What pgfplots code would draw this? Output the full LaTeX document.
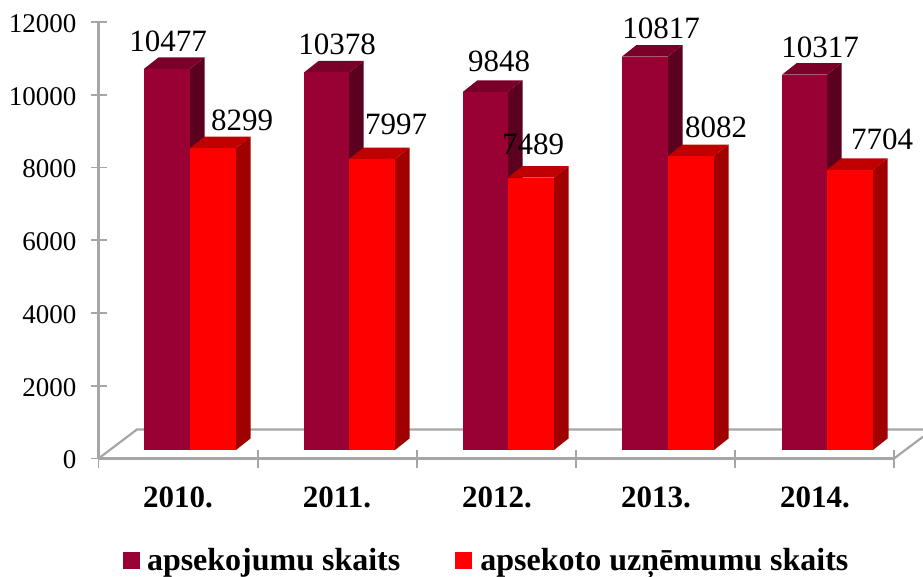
\documentclass[border=0pt]{standalone}
\usepackage{fontspec}
\setmainfont{Liberation Serif}
\usepackage{pgfplots}
\pgfplotsset{compat=1.18}
\definecolor{dfront}{HTML}{990033}
\definecolor{dside}{HTML}{5C001F}
\definecolor{dtop}{HTML}{7A0029}
\definecolor{rfront}{HTML}{FF0000}
\definecolor{rside}{HTML}{A00000}
\definecolor{rtop}{HTML}{C00000}
\definecolor{axgray}{HTML}{A6A6A6}
% #1 left x, #2 right x, #3 value, #4 front, #5 side, #6 top
\newcommand{\threebar}[6]{%
  \pgfmathsetmacro{\yb}{234}%
  \pgfmathsetmacro{\yt}{234+#3}%
  \pgfmathsetmacro{\ybb}{234+316}%
  \pgfmathsetmacro{\ytb}{234+316+#3}%
  \pgfmathsetmacro{\xl}{#1}%
  \pgfmathsetmacro{\xr}{#2}%
  \pgfmathsetmacro{\xlb}{#1+14.5}%
  \pgfmathsetmacro{\xrb}{#2+14.5}%
  \addplot[forget plot,draw=none,fill=#5] coordinates {(\xr,\yb) (\xrb,\ybb) (\xrb,\ytb) (\xr,\yt)} --cycle;
  \addplot[forget plot,draw=none,fill=#6] coordinates {(\xl,\yt) (\xr,\yt) (\xrb,\ytb) (\xlb,\ytb)} --cycle;
  \addplot[forget plot,draw=none,fill=#4] coordinates {(\xl,\yb) (\xr,\yb) (\xr,\yt) (\xl,\yt)} --cycle;
}
\begin{document}
\begin{tikzpicture}[x=1pt,y=1pt]
\useasboundingbox (0,0) rectangle (923,576);
\begin{axis}[
  at={(98.5pt,117.5pt)},anchor=south west,
  scale only axis,width=795.5pt,height=436.5pt,
  xmin=98.5,xmax=894,ymin=0,ymax=12000,
  clip=false,
  axis x line*=bottom,axis y line*=left,
  axis line style={draw=axgray,line width=2.6pt,-},
  scaled y ticks=false,
  /pgf/number format/assume math mode=true,
  /pgf/number format/1000 sep={},
  ytick={0,2000,4000,6000,8000,10000,12000},
  yticklabel style={font=\fontsize{27}{30}\selectfont,xshift=-10.5pt,yshift=-1.5pt},
  ytick style={draw=axgray,line width=1.8pt},
  xtick={178,337,497,656,815},
  xticklabels={2010.,2011.,2012.,2013.,2014.},
  xticklabel style={font=\fontsize{31}{34}\selectfont\bfseries,yshift=-17pt},
  extra x ticks={98.5,258,417,576,735,894},
  extra x tick labels={},
  extra x tick style={major x tick style={draw=axgray,line width=1.8pt},major tick length=18pt},
  major x tick style={draw=none},
  major tick length=16pt,
  tick align=center,
  legend columns=2,
  legend cell align=left,
  legend style={at={(axis cs:123,-2415)},anchor=north west,draw=none,fill=none,
    font=\fontsize{32}{35}\selectfont\bfseries,inner sep=0pt,outer sep=0pt,
    /tikz/every even column/.append style={column sep=53pt}},
  legend image code/.code={\fill[#1] (0pt,-9pt) rectangle (17pt,8pt);},
]
% floor
\addplot[forget plot,draw=axgray,line width=2.2pt] coordinates {(98.5,0) (137,798) (923,798)};
\addplot[forget plot,draw=axgray,line width=2.2pt] coordinates {(894,0) (923,600)};
% bars
\threebar{144}{190}{10477}{dfront}{dside}{dtop}
\threebar{190}{236}{8299}{rfront}{rside}{rtop}
\threebar{304}{349}{10378}{dfront}{dside}{dtop}
\threebar{349}{395}{7997}{rfront}{rside}{rtop}
\threebar{463}{508}{9848}{dfront}{dside}{dtop}
\threebar{508}{554}{7489}{rfront}{rside}{rtop}
\threebar{622}{668}{10817}{dfront}{dside}{dtop}
\threebar{668}{714}{8082}{rfront}{rside}{rtop}
\threebar{782}{827}{10317}{dfront}{dside}{dtop}
\threebar{827}{873}{7704}{rfront}{rside}{rtop}
% value labels
\addplot[forget plot,draw=none,point meta=explicit symbolic,
  nodes near coords,
  every node near coord/.style={anchor=center,font=\fontsize{31}{33}\selectfont,text=black,inner sep=0pt}]
  coordinates {
  (168,11462)[10477] (242,9290)[8299]
  (337,11380)[10378] (396,9180)[7997]
  (499,10915)[9848] (533,8630)[7489]
  (661,11820)[10817] (716,9100)[8082]
  (820,11300)[10317] (882,8765)[7704]};
\addlegendimage{fill=dfront,draw=none}
\addlegendentry{\hspace*{5pt}apsekojumu skaits}
\addlegendimage{fill=rfront,draw=none}
\addlegendentry{\hspace*{6pt}apsekoto uzņēmumu skaits}
\end{axis}
\end{tikzpicture}
\end{document}
